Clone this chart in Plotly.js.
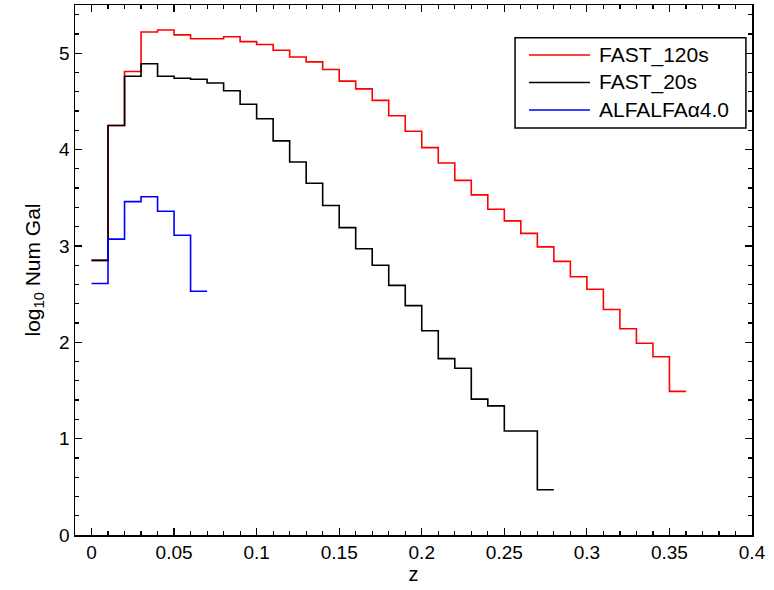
<!DOCTYPE html>
<html>
<head>
<meta charset="utf-8">
<script src="https://cdn.plot.ly/plotly-3.0.1.min.js"></script>
<style>html,body{margin:0;padding:0;background:#fff;}#chart{width:774px;height:590px;}</style>
</head>
<body>
<div id="chart"></div>
<script>
// Bin edges in redshift z (bin width 0.01)
const zEdges = [0, 0.01, 0.02, 0.03, 0.04, 0.05, 0.06, 0.07, 0.08, 0.09,
  0.10, 0.11, 0.12, 0.13, 0.14, 0.15, 0.16, 0.17, 0.18, 0.19,
  0.20, 0.21, 0.22, 0.23, 0.24, 0.25, 0.26, 0.27, 0.28, 0.29,
  0.30, 0.31, 0.32, 0.33, 0.34, 0.35, 0.36];

// log10 number of galaxies per bin
const fast120 = [2.85, 4.25, 4.81, 5.22, 5.24, 5.19, 5.15, 5.15, 5.17, 5.12,
  5.09, 5.03, 4.96, 4.91, 4.83, 4.71, 4.63, 4.51, 4.35, 4.19,
  4.02, 3.86, 3.68, 3.53, 3.38, 3.26, 3.13, 2.99, 2.84, 2.68,
  2.55, 2.34, 2.14, 1.99, 1.85, 1.49];
const fast20 = [2.85, 4.25, 4.76, 4.89, 4.76, 4.74, 4.73, 4.69, 4.61, 4.47,
  4.32, 4.09, 3.87, 3.65, 3.42, 3.19, 2.97, 2.80, 2.59, 2.38,
  2.12, 1.83, 1.73, 1.41, 1.34, 1.08, 1.08, 0.47];
const alfalfa = [2.61, 3.07, 3.46, 3.51, 3.36, 3.11, 2.53];

const seriesNames = ['FAST_120s', 'FAST_20s', 'ALFALFA\u03b14.0'];
const seriesColors = ['#ff0000', '#000000', '#0000ff'];
const xTickVals = [0, 0.05, 0.1, 0.15, 0.2, 0.25, 0.3, 0.35, 0.4];
const yTickVals = [0, 1, 2, 3, 4, 5];
const xRange = [-0.01, 0.4];
const yRange = [0, 5.5];

function stepTrace(vals, name, color) {
  const x = zEdges.slice(0, vals.length + 1);
  const y = vals.concat([vals[vals.length - 1]]);
  return {x: x, y: y, name: name, type: 'scatter', mode: 'lines',
    line: {shape: 'hv', color: color, width: 1.6}};
}

const data = [
  stepTrace(fast120, seriesNames[0], seriesColors[0]),
  stepTrace(fast20, seriesNames[1], seriesColors[1]),
  stepTrace(alfalfa, seriesNames[2], seriesColors[2])
];

const fontFam = '"Liberation Sans", Arial, sans-serif';
const axisCommon = {
  showgrid: false, zeroline: false, showline: true, linecolor: '#000', linewidth: 1.5,
  mirror: 'allticks', ticks: 'inside', ticklen: 7, tickwidth: 1.2, tickcolor: '#000',
  tickfont: {family: fontFam, size: 19, color: '#000'}
};
const minorX = {dtick: 0.01, tick0: 0, ticks: 'inside', ticklen: 4, tickwidth: 1.2, tickcolor: '#000'};
const minorY = {dtick: 0.2, tick0: 0, ticks: 'inside', ticklen: 4, tickwidth: 1.2, tickcolor: '#000'};

// Legend box drawn in paper coordinates (MATLAB-style legend)
const legBox = {x0: 0.650, x1: 0.991, y0: 0.768, y1: 0.938};
const legRowY = [0.9057, 0.8538, 0.8019];
const legLineX = [0.6706, 0.7607];
const legTextX = 0.771;

const shapes = [{type: 'rect', xref: 'paper', yref: 'paper', x0: legBox.x0, x1: legBox.x1,
  y0: legBox.y0, y1: legBox.y1, line: {color: '#000', width: 1.5}, fillcolor: '#fff', layer: 'above'}];
const annotations = [];
seriesNames.forEach(function (nm, i) {
  shapes.push({type: 'line', xref: 'paper', yref: 'paper', x0: legLineX[0], x1: legLineX[1],
    y0: legRowY[i], y1: legRowY[i], line: {color: seriesColors[i], width: 1.6}, layer: 'above'});
  annotations.push({xref: 'paper', yref: 'paper', x: legTextX, y: legRowY[i], xanchor: 'left',
    yanchor: 'middle', text: nm, showarrow: false,
    font: {family: fontFam, size: 21, color: '#000'}});
});

const layout = {
  width: 774, height: 590,
  margin: {l: 75, r: 22, t: 5, b: 55},
  paper_bgcolor: '#fff', plot_bgcolor: '#fff',
  font: {family: fontFam, color: '#000'},
  showlegend: false,
  xaxis: Object.assign({}, axisCommon, {
    range: xRange, tickmode: 'array', tickvals: xTickVals,
    ticktext: xTickVals.map(String),
    minor: minorX,
    title: {text: 'z', font: {family: fontFam, size: 20, color: '#000'}, standoff: 4}
  }),
  yaxis: Object.assign({}, axisCommon, {
    range: yRange, tickmode: 'array', tickvals: yTickVals,
    minor: minorY,
    title: {text: 'log<sub>10</sub> Num Gal', font: {family: fontFam, size: 21, color: '#000'}, standoff: 13}
  }),
  // mirrored axes to carry the minor ticks on the top and right sides
  xaxis2: {overlaying: 'x', side: 'top', anchor: 'y', range: xRange, showgrid: false, zeroline: false,
    showline: false, showticklabels: false, tickmode: 'array', tickvals: xTickVals,
    ticks: 'inside', ticklen: 7, tickwidth: 1.2, tickcolor: '#000', minor: minorX},
  yaxis2: {overlaying: 'y', side: 'right', anchor: 'x', range: yRange, showgrid: false, zeroline: false,
    showline: false, showticklabels: false, tickmode: 'array', tickvals: yTickVals,
    ticks: 'inside', ticklen: 7, tickwidth: 1.2, tickcolor: '#000', minor: minorY},
  shapes: shapes,
  annotations: annotations
};

Plotly.newPlot('chart', data, layout, {displayModeBar: false, staticPlot: true});
</script>
</body>
</html>
